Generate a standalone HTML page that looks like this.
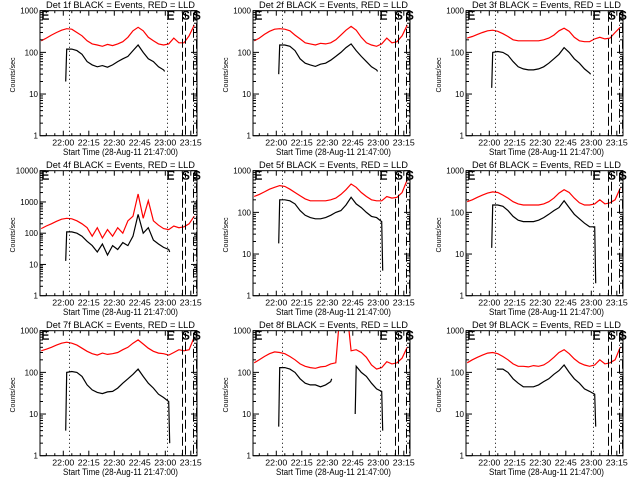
<!DOCTYPE html>
<html><head><meta charset="utf-8"><style>
html,body{margin:0;padding:0;background:#fff}
svg{display:block}
text{font-family:"Liberation Sans",sans-serif;fill:#000}
</style></head><body>
<svg id="chart" width="640" height="480" viewBox="0 0 640 480" xmlns="http://www.w3.org/2000/svg"></svg>
<script>
// time grid: minutes since 22:00
const times = [-13,-10,-7,-4,-1,2,5,8,11,14,17,20,23,26,29,32,35,38,41,44,47,50,53,56,59,62,65,68,71,74,77];
const N = null;
const detNames = ["1f","2f","3f","4f","5f","6f","7f","8f","9f"];
const decades = [3,3,3,4,3,3,3,3,3];
const red1 = [190,220,260,300,340,370,360,300,250,190,160,150,140,155,145,160,180,230,330,400,330,230,190,160,150,160,220,170,170,250,450];
const blk1 = [N,N,N,N,20,120,120,110,90,60,50,45,48,44,50,60,70,80,110,150,100,70,60,45,38,35,N,N,N,N,N];
const red2 = [190,220,270,320,360,370,360,330,260,210,170,160,150,165,160,170,200,260,340,420,340,230,170,150,140,160,220,170,180,250,450];
const blk2 = [N,N,N,N,30,150,150,140,110,70,55,50,46,52,55,65,80,100,130,160,110,80,60,45,38,35,N,N,N,N,N];
const red3 = [220,240,270,300,330,340,320,280,240,200,190,190,190,190,190,200,220,260,330,380,320,230,190,180,180,210,230,210,220,300,400];
const blk3 = [N,N,N,N,14,100,105,100,85,60,45,40,38,38,40,45,55,70,90,130,100,70,55,40,32,30,N,N,N,N,N];
const red4 = [140,170,200,240,280,300,290,250,200,150,80,150,70,130,80,150,100,250,350,1800,300,1100,250,180,140,130,170,150,160,200,350];
const blk4 = [N,N,N,N,13,110,110,100,80,55,40,25,45,20,40,30,50,40,80,400,100,150,60,45,35,30,25,N,N,N,N];
const red5 = [240,270,310,360,400,440,420,360,300,250,210,190,190,190,190,200,220,270,350,480,400,300,240,200,190,190,240,220,230,300,600];
const blk5 = [N,N,N,N,18,200,200,190,160,110,85,75,70,70,75,85,100,110,150,230,160,130,100,80,75,60,4,N,N,N,N];
const red6 = [180,200,230,260,290,310,300,260,220,180,160,150,150,150,150,160,180,220,290,350,300,220,170,150,150,160,200,160,170,200,380];
const blk6 = [N,N,N,N,14,150,150,140,110,80,65,60,60,60,65,75,90,110,130,190,130,90,70,55,45,45,2,N,N,N,N];
const red7 = [330,360,400,450,500,530,500,450,380,320,280,260,290,270,280,300,350,400,500,600,480,380,320,290,280,260,300,350,330,350,700];
const blk7 = [N,N,N,N,4,100,105,100,80,50,38,33,31,34,35,42,55,70,90,120,80,55,42,30,25,20,2,N,N,N,N];
const red8 = [170,200,240,280,310,300,280,240,200,160,140,130,125,135,140,160,170,5000,5000,330,350,300,230,150,120,130,180,160,170,220,400];
const blk8 = [N,N,N,N,5,130,130,120,100,70,55,50,50,45,50,60,70,N,N,10,140,100,80,55,40,35,4,N,N,N,N];
const red9 = [170,200,230,260,290,300,280,240,200,160,140,140,135,145,140,150,180,230,300,350,280,210,170,150,140,150,200,160,170,200,400];
const blk9 = [N,N,N,N,N,120,120,120,100,70,55,45,45,45,50,60,70,90,110,150,100,70,55,40,35,30,5,N,N,N,N];
const redSeries = [red1,red2,red3,red4,red5,red6,red7,red8,red9];
const blackSeries = [blk1,blk2,blk3,blk4,blk5,blk6,blk7,blk8,blk9];
const xTickMinutes = [0,15,30,45,60,75];
const xTickLabels = ["22:00","22:15","22:30","22:45","23:00","23:15"];
const eventMinutes = [3.5,60.8];
const dashMinutes = [70.4];
const dashDotMinutes = [76.9];

const svg = document.getElementById('chart');
const NS = 'http://www.w3.org/2000/svg';
function mk(tag, attrs, parent){const e=document.createElementNS(NS,tag);for(const k in attrs)e.setAttribute(k,attrs[k]);parent.appendChild(e);return e;}

for(let p=0;p<9;p++){
  const ox=(p%3)*213, oy=Math.floor(p/3)*160;
  const L=ox+40, R=ox+197, T=oy+10.7, B=oy+135.7;
  const dec=decades[p];
  const xs=m=>ox+63.3+m*1.7;
  const ys=v=>B-Math.log10(v)/dec*(B-T);
  const g=mk('g',{},svg);
  
  
  const cp=mk('clipPath',{id:'c'+p},g);
  mk('rect',{x:L,y:T,width:R-L,height:B-T},cp);
  const tt=mk('text',{x:ox+120.5,y:oy+8,'font-size':9.5,'text-anchor':'middle',textLength:149,lengthAdjust:'spacingAndGlyphs'},g);
  tt.textContent='Det '+detNames[p]+' BLACK = Events, RED = LLD';
  
  
  function drawLine(vals,color,name){
    let d='';
    for(let i=0;i<times.length;i++){
      const v=vals[i];
      if(v===null) continue;
      const prevOk=i>0&&vals[i-1]!==null;
      const nextOk=i<times.length-1&&vals[i+1]!==null;
      let x=xs(times[i]);
      if(!prevOk&&nextOk&&i>0) x=xs(times[i+1])-1;      // abrupt start
      if(prevOk&&!nextOk&&i<times.length-1) x=xs(times[i-1])+1; // abrupt drop
      d+=(prevOk?'L':'M')+x.toFixed(1)+' '+ys(v).toFixed(1);
    }
    const path=mk('path',{d:d,fill:'none',stroke:color,'stroke-width':1.2,'stroke-linejoin':'miter','clip-path':'url(#c'+p+')'},g);
    
    
  }
  drawLine(redSeries[p],'#ff0000','lld-series');
  drawLine(blackSeries[p],'#000','events-series');
  for(const m of eventMinutes){
    const x=Math.round(xs(m))+0.5;
    const l=mk('line',{x1:x,x2:x,y1:T,y2:B,stroke:'#000','stroke-width':1,'stroke-dasharray':'1,3'},g);
    
    
  }
  for(const m of dashMinutes){
    for(const dx of [-1,2]){
      const x=Math.round(xs(m))+dx+0.5;
      const l=mk('line',{x1:x,x2:x,y1:T+2,y2:B,stroke:'#000','stroke-width':1,'stroke-dasharray':'9,4','stroke-dashoffset':dx>0?4:0},g);
      
      
    }
  }
  for(const m of dashDotMinutes){
    for(const dx of [-1,2]){
      const x=Math.round(xs(m))+dx+0.5;
      const l=mk('line',{x1:x,x2:x,y1:T+2,y2:B,stroke:'#000','stroke-width':1,'stroke-dasharray':'9,3,1,3','stroke-dashoffset':dx>0?5:0},g);
      
      
    }
  }
  const letters=[['E',L+1.5],['E',xs(eventMinutes[1])],['S',xs(dashMinutes[0])-1],['S',xs(dashDotMinutes[0])-1]];
  for(const [c,x] of letters){
    const t=mk('text',{x:x,y:T+9,'font-size':11.5,fill:'none',stroke:'#000','stroke-width':0.5},g);
    t.textContent=c;
    
    
  }
  const box=mk('rect',{x:L,y:T,width:R-L,height:B-T,fill:'none',stroke:'#000','stroke-width':1},g);
  
  
  for(let m=-10;m<=75;m+=5){
    const x=xs(m); if(x<L||x>R) continue;
    const len=(m%15===0)?5:2.5;
    mk('line',{x1:x,x2:x,y1:B,y2:B-len,stroke:'#000'},g);
    mk('line',{x1:x,x2:x,y1:T,y2:T+len,stroke:'#000'},g);
  }
  xTickMinutes.forEach((m,i)=>{
    const t=mk('text',{x:xs(m),y:B+10,'font-size':8.5,'text-anchor':'middle',textLength:22,lengthAdjust:'spacingAndGlyphs'},g);
    t.textContent=xTickLabels[i];
    
    
  });
  const xt=mk('text',{x:ox+120.5,y:oy+155,'font-size':9,'text-anchor':'middle',textLength:115,lengthAdjust:'spacingAndGlyphs'},g);
  xt.textContent='Start Time (28-Aug-11 21:47:00)';
  
  
  for(let d=0;d<=dec;d++){
    const y=ys(Math.pow(10,d));
    mk('line',{x1:L,x2:L+6,y1:y,y2:y,stroke:'#000'},g);
    mk('line',{x1:R,x2:R-6,y1:y,y2:y,stroke:'#000'},g);
    const t=mk('text',{x:L-2,y:y+3,'font-size':8,'text-anchor':'end'},g);
    t.textContent=String(Math.pow(10,d));
    
    
    if(d<dec){
      for(let k=2;k<=9;k++){
        const ym=ys(k*Math.pow(10,d));
        mk('line',{x1:L,x2:L+3,y1:ym,y2:ym,stroke:'#000'},g);
        mk('line',{x1:R,x2:R-3,y1:ym,y2:ym,stroke:'#000'},g);
      }
    }
  }
  const yt=mk('text',{x:0,y:0,'font-size':7.5,'text-anchor':'middle',transform:'translate('+(ox+15)+','+(oy+75)+') rotate(-90)',textLength:35,lengthAdjust:'spacingAndGlyphs'},g);
  yt.textContent='Counts/sec';
  
  
}
</script>
</body></html>
